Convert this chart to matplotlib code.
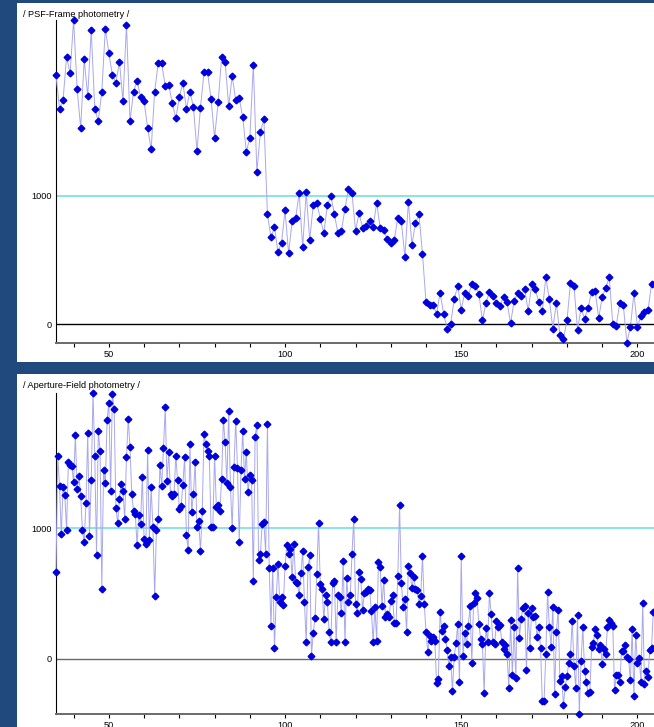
import matplotlib.pyplot as plt
import numpy as np
from matplotlib.patches import Rectangle

plt.rcParams["font.family"] = ["Liberation Sans", "DejaVu Sans"]
plt.rcParams["font.size"] = 6.6

W, H = 654, 727

# PSF-frame photometry, one value per frame
psf_frames = np.arange(35, 205)
psf_flux = [
    1941, 1678, 1746, 2083, 1956, 2370, 1829, 1528, 2065, 1775,
    2292, 1678, 1582, 1811, 2303, 2112, 1941, 1882, 2045, 1740,
    2333, 1582, 1811, 1898, 1766, 1735, 1528, 1361, 1811, 2036,
    2031, 1855, 1863, 1720, 1603, 1768, 1882, 1678, 1811, 1693,
    1348, 1686, 1962, 1962, 1753, 1452, 1727, 2078, 2042, 1697,
    1933, 1746, 1760, 1611, 1344, 1447, 2023, 1185, 1494, 1598,
    854, 676, 756, 559, 634, 886, 551, 800, 826, 1019,
    600, 1026, 655, 930, 946, 821, 709, 925, 1000, 857,
    707, 727, 896, 1055, 1019, 727, 863, 751, 766, 803,
    756, 946, 746, 730, 660, 631, 655, 829, 800, 522,
    951, 618, 785, 854, 546, 171, 146, 146, 80, 244,
    80, -39, 0, 195, 296, 112, 244, 221, 312, 299,
    236, 29, 161, 249, 221, 164, 143, 213, 171, 5,
    179, 242, 221, 275, 99, 312, 270, 171, 101, 364,
    192, -36, 166, -88, -117, 29, 317, 296, -47, 125,
    42, 125, 252, 260, 47, 208, 283, 364, 0, -13,
    166, 146, -146, -26, 242, -26, 65, 94, 107, 312,
]

# aperture-field photometry, two values per frame
aperture_frames = np.arange(35, 205, 0.5)
aperture_flux = [
    666, 1551, 1327, 954, 1316, 1252, 990, 1505, 1484, 1474,
    1354, 1717, 1301, 1398, 1250, 985, 898, 1191, 1729, 941,
    1367, 2038, 1556, 793, 1750, 1594, 536, 1446, 1344, 1834,
    1959, 1285, 2030, 1913, 1155, 1041, 1227, 1337, 1285, 1069,
    1548, 1839, 1622, 1262, 1132, 1112, 868, 1102, 1036, 1393,
    916, 880, 1602, 908, 1314, 1010, 482, 990, 1069, 1484,
    1327, 1617, 1928, 1360, 1584, 1260, 1245, 1265, 1558, 1367,
    1148, 1168, 1331, 1548, 949, 832, 1643, 1128, 1265, 1507,
    1010, 1054, 824, 1132, 1724, 1648, 1589, 1553, 1013, 1008,
    1558, 1163, 1176, 1130, 1377, 1834, 1660, 1347, 1897, 1316,
    1000, 1469, 1826, 1461, 893, 1449, 1744, 1377, 1584, 1275,
    1405, 1372, 597, 1704, 1790, 753, 801, 1036, 1048, 803,
    1801, 696, 250, 696, 79, 470, 727, 431, 470, 408,
    712, 868, 801,
    844, 628, 882, 589, 577, 487, 653, 824, 436, 123,
    699, 791, 21, 199, 309, 648, 1041, 569, 531, 306,
    485, 436, 204, 123, 577, 597, 130, 485, 469, 347,
    750, 123, 615, 434, 487, 806, 1074, 418, 347, 666,
    607, 372, 505, 513, 531, 525, 365, 130, 395, 135,
    740, 704, 403, 602, 321, 339, 321, 441, 487, 270,
    270, 635, 1176, 582, 398, 454, 204, 709, 653, 541,
    628, 531, 525, 421, 480, 786, 418, 207, 49, 174,
    138, 168, 138, -188, -158, 360, 214, 253, 153, 69,
    -56, 15, -252, 15, 117, 263, -181, 786, 23, 199,
    110, 253, 403, -33, 423, 500, 462, 265, 148, 112,
    -265, 232, 130, 500, 339, 123, 110, 291, 240, 255,
    130, 72, 100, 36, -227, 296, -125, 240, -153, 691,
    156, 306, 390, 403, -87, 352, 79, 385, 319, 329,
    168, 245, 82, -329, -329, 31, 508, 245, 92, 398,
    -275, 202, 372, -173, -138, -357, -219, -132, -38, 38,
    286, -61, -227, 332, -426, -18, 245, -99, -181, -265,
    -255, 87, 117, 225, 181, 74, 100, -43, 74, 33,
    245, 296, 270, 253, -245, -130, -125, -183, 61, 61,
    107, 10, -5, -168, 225, -285, 184, -38, 3, -183,
    429, -194, -99, -143, 66, 79, 360,
]

x_ticks = np.arange(40, 205, 10)
y_ticks = [0, 1000]


def px_box(left, top, right, bottom):
    return [left / W, 1 - bottom / H, (right - left) / W, (bottom - top) / H]


def draw_panel(fig, panel, axes_box, title, x, y, ylim, zero_color):
    # white card behind each chart, drawn below the axes
    fig.patches.append(
        Rectangle((panel[0], panel[1]), panel[2], panel[3],
                  transform=fig.transFigure, facecolor="white",
                  edgecolor="none", zorder=-5)
    )
    fig.text(panel[0] + 6 / W, panel[1] + panel[3] - 11 / H, title,
             ha="left", va="center", color="black")

    ax = fig.add_axes(axes_box)
    ax.set_zorder(2)
    ax.patch.set_alpha(0)
    ax.axhline(1000, color="#80e2e2", linewidth=1.3, zorder=1)
    ax.axhline(0, color=zero_color, linewidth=1.0, zorder=1)
    ax.plot(x, y, color="#a8a8ee", linewidth=0.7, marker="D",
            markersize=3.4, markerfacecolor="#0000dc",
            markeredgecolor="#0000dc", zorder=3, clip_on=False)

    ax.set_xlim(35, 204.7)
    ax.set_ylim(*ylim)
    ax.set_xticks(x_ticks)
    ax.set_xticklabels([str(t) if t % 50 == 0 else "" for t in x_ticks])
    ax.set_yticks(y_ticks)
    ax.tick_params(axis="x", direction="out", length=3, width=0.8,
                   color="black", pad=2)
    ax.tick_params(axis="y", length=0, pad=3)
    for side in ("top", "right"):
        ax.spines[side].set_visible(False)
    ax.spines["left"].set_color("black")
    ax.spines["left"].set_linewidth(0.8)
    ax.spines["bottom"].set_color("#6a6a6a")
    ax.spines["bottom"].set_linewidth(1.4)
    return ax


fig = plt.figure(figsize=(W / 100, H / 100), dpi=100, facecolor="#204a7d")

draw_panel(fig, px_box(17, 3, 654, 362), px_box(56, 20, 654, 343),
           "/ PSF-Frame photometry /", psf_frames, psf_flux,
           (-148, 2370), "black")
draw_panel(fig, px_box(17, 374, 654, 727), px_box(56, 393, 654, 714),
           "/ Aperture-Field photometry /", aperture_frames, aperture_flux,
           (-426, 2038), "#6a6a6a")

fig.savefig("out.png", dpi=100, facecolor=fig.get_facecolor())
